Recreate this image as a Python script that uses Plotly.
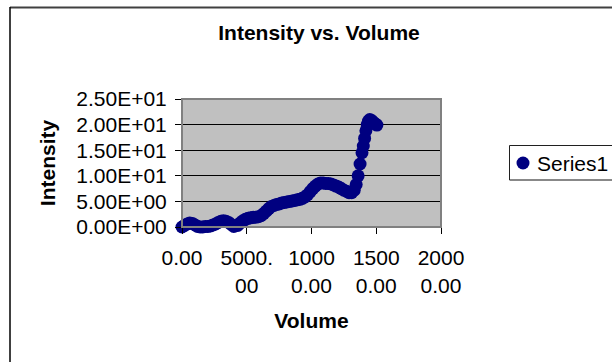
import plotly.graph_objects as go

volume = [0, 200, 400, 600, 800, 1000, 1200, 1400, 1600, 1800, 2000, 2200, 2400, 2600,
          2800, 3000, 3200, 3400, 3600, 3800, 4000, 4150, 4300, 4500, 4700, 4900, 5100,
          5300, 5500, 5700, 5900, 6100, 6300, 6500, 6700, 6900, 7100, 7300, 7500, 7700,
          7900, 8100, 8300, 8500, 8700, 8900, 9100, 9300, 9500, 9700, 9900, 10100, 10300,
          10500, 10700, 10900, 11100, 11300, 11500, 11700, 11900, 12100, 12300, 12500,
          12700, 12900, 13100, 13300, 13450, 13600, 13750, 13900, 14000, 14100, 14200,
          14300, 14400, 14500, 14650, 14800, 14950, 15050]
intensity = [0.0, 0.3, 0.6, 0.8, 0.7, 0.4, 0.1, 0.0, 0.0, 0.1, 0.1, 0.2, 0.4, 0.6,
             0.9, 1.1, 1.2, 1.1, 0.9, 0.5, 0.1, -0.1, 0.3, 0.8, 1.2, 1.5, 1.7,
             1.8, 1.9, 1.9, 2.0, 2.2, 2.6, 3.1, 3.6, 4.0, 4.2, 4.4, 4.5, 4.7,
             4.8, 4.9, 5.0, 5.1, 5.2, 5.3, 5.4, 5.6, 5.9, 6.3, 6.9, 7.5, 8.0,
             8.4, 8.6, 8.6, 8.5, 8.5, 8.4, 8.2, 8.0, 7.8, 7.5, 7.2,
             7.0, 6.7, 6.7, 7.2, 8.3, 10.0, 12.3, 14.5, 15.8, 17.3, 18.8,
             20.0, 20.7, 21.0, 20.8, 20.4, 20.1, 19.9]

series_name = "Series1"
x_tickvals = [0, 5000, 10000, 15000, 20000]
x_ticktext = ["0.00", "5000.<br>00", "1000<br>0.00", "1500<br>0.00", "2000<br>0.00"]
y_tickvals = [0, 5, 10, 15, 20, 25]
y_ticktext = ["0.00E+00", "5.00E+00", "1.00E+01", "1.50E+01", "2.00E+01", "2.50E+01"]

FONT = "Liberation Sans, Arial, sans-serif"
FS = 21
NAVY = "#000080"
W, H = 612, 362
L, R, T, B = 182, 171, 99, 135
pw, ph = W - L - R, H - T - B

def px(xp):
    return (xp - L) / pw

def py(yp):
    return (H - B - yp) / ph

fig = go.Figure()
fig.add_trace(go.Scatter(
    x=volume, y=intensity, mode="markers", name=series_name,
    marker=dict(color=NAVY, size=13, line=dict(width=0)),
    cliponaxis=False, showlegend=False,
))

fig.update_layout(
    width=W, height=H,
    margin=dict(l=L, r=R, t=T, b=B, autoexpand=False),
    paper_bgcolor="white",
    plot_bgcolor="#C0C0C0",
    font=dict(family=FONT, size=FS, color="black"),
    title=dict(text="<b>Intensity vs. Volume</b>", x=319 / W, xanchor="center",
               y=1 - 33 / H, yanchor="middle", font=dict(size=FS)),
    showlegend=False,
)

fig.update_xaxes(
    range=[0, 20000], tickvals=x_tickvals, ticktext=x_ticktext,
    showgrid=False, zeroline=False, showline=True, linecolor="black", linewidth=1,
    ticks="outside", ticklen=6, tickcolor="black",
    tickfont=dict(size=FS), ticklabelstandoff=6,
    title=dict(text="<b>Volume</b>", font=dict(size=FS), standoff=17),
)
fig.update_yaxes(
    range=[0, 25], tickvals=y_tickvals, ticktext=y_ticktext,
    showgrid=True, gridcolor="black", gridwidth=1,
    zeroline=False, showline=True, linecolor="black", linewidth=1,
    ticks="outside", ticklen=6, tickcolor="black",
    tickfont=dict(size=FS), ticklabelstandoff=4,
    title=dict(text="<b>Intensity</b>", font=dict(size=FS), standoff=14),
)

# plot-area border (Excel style grey frame)
fig.add_shape(type="rect", xref="paper", yref="paper", x0=0, y0=0, x1=1, y1=1,
              line=dict(color="#808080", width=2), layer="above")

def hline(x0, x1, y, color, width):
    fig.add_shape(type="line", xref="paper", yref="paper", x0=px(x0), x1=px(x1),
                  y0=py(y), y1=py(y), line=dict(color=color, width=width))

def vline(x, y0, y1, color, width):
    fig.add_shape(type="line", xref="paper", yref="paper", x0=px(x), x1=px(x),
                  y0=py(y0), y1=py(y1), line=dict(color=color, width=width))

# legend key (box runs off the right edge as in the reference)
hline(509.5, 640, 145.5, "#202020", 1)
hline(509.5, 640, 180, "#606060", 1.5)
vline(509.5, 145.5, 180, "#202020", 1)
fig.add_shape(type="circle", xref="paper", yref="paper",
              x0=px(516.5), x1=px(529.5), y0=py(169.5), y1=py(156.5),
              fillcolor=NAVY, line=dict(width=0))
fig.add_annotation(text=series_name, xref="paper", yref="paper",
                   x=px(535), y=py(163), xanchor="left", yanchor="middle",
                   showarrow=False, font=dict(size=FS, color="black"))

# outer chart frame (top and left visible)
hline(10, 640, 7.5, "#404040", 2)
vline(10, 7, 400, "black", 1.5)

fig.write_html("out.html")
